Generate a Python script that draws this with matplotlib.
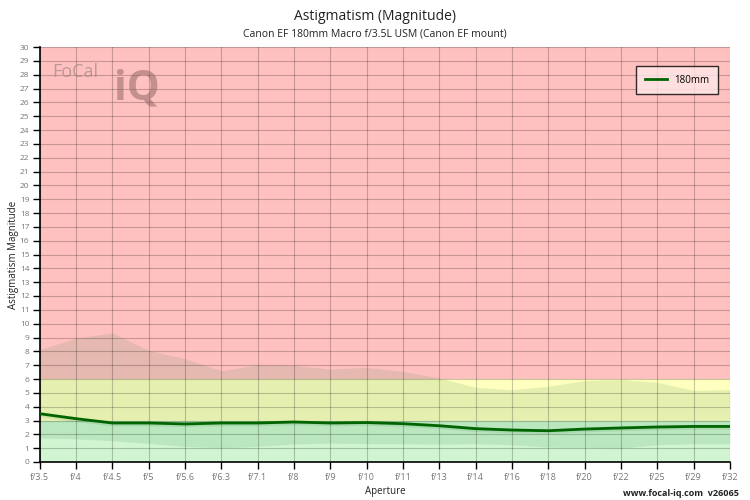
import numpy as np
import matplotlib.pyplot as plt

apertures = ["f/3.5", "f/4", "f/4.5", "f/5", "f/5.6", "f/6.3", "f/7.1", "f/8", "f/9", "f/10",
             "f/11", "f/13", "f/14", "f/16", "f/18", "f/20", "f/22", "f/25", "f/29", "f/32"]

# 180mm astigmatism magnitude
mag_180 = [3.49, 3.13, 2.82, 2.82, 2.75, 2.82, 2.82, 2.89, 2.82, 2.85,
           2.77, 2.62, 2.41, 2.31, 2.26, 2.38, 2.46, 2.53, 2.57, 2.57]

# spread of other samples (shaded envelope)
env_upper = [8.12, 8.96, 9.33, 8.07, 7.47, 6.60, 7.03, 6.99, 6.72, 6.84,
             6.55, 6.07, 5.40, 5.23, 5.47, 5.88, 5.95, 5.76, 5.18, 5.23]
env_lower = [1.73, 1.68, 1.54, 1.35, 1.13, 1.03, 1.13, 1.30, 1.37, 1.33,
             1.32, 1.30, 1.32, 1.25, 1.08, 1.06, 1.01, 1.25, 1.32, 1.32]

# quality zones
zones = [(0, 3, "#d0f5d0"), (3, 6, "#ffffc0"), (6, 30, "#ffc0c0")]

plt.rcParams["font.family"] = ["Open Sans", "DejaVu Sans"]

fig = plt.figure(figsize=(7.5, 5), dpi=100)
ax = fig.add_axes([0.053, 0.076, 0.9203, 0.83])

x = np.arange(len(apertures))

for lo, hi, col in zones:
    ax.axhspan(lo, hi, color=col, zorder=0, lw=0)

ax.fill_between(x, env_lower, env_upper, color="#157830", alpha=0.11, lw=0, zorder=1)

ax.plot(x, np.array(mag_180) - 0.06, color="#157830", lw=3.5, alpha=0.12, zorder=2)
ax.plot(x, mag_180, color="#006400", lw=2, zorder=3, label="180mm")

ax.set_xlim(0, len(apertures) - 1)
ax.set_ylim(0, 30)
ax.set_xticks(x)
ax.set_xticklabels(apertures)
ax.set_yticks(np.arange(0, 31, 1))

ax.grid(True, color="black", alpha=0.22, lw=0.8)
for gl in ax.get_xgridlines() + ax.get_ygridlines():
    gl.set_zorder(1.5)

for s in ["top", "right"]:
    ax.spines[s].set_visible(False)
ax.spines["left"].set_linewidth(1.2)
ax.spines["bottom"].set_linewidth(1.2)
ax.tick_params(axis="both", labelsize=6.5, labelcolor="#777777", length=5, width=1, direction="out")
ax.tick_params(axis="y", labelsize=6, pad=2.5)
ax.tick_params(axis="x", pad=3)

ax.set_xlabel("Aperture", fontsize=7, color="#222222")
ax.set_ylabel("Astigmatism Magnitude", fontsize=7, color="#222222")
ax.xaxis.set_label_coords(0.5, -0.057)
ax.yaxis.set_label_coords(-0.0295, 0.5)

fig.text(0.5, 0.966, "Astigmatism (Magnitude)", ha="center", va="center", fontsize=10, color="#222222")
fig.text(0.5, 0.932, "Canon EF 180mm Macro f/3.5L USM (Canon EF mount)", ha="center", va="center",
         fontsize=7.5, color="#222222")

leg = ax.legend(loc="upper right", bbox_to_anchor=(0.99, 0.966), fontsize=7, frameon=True,
                fancybox=False, handlelength=2.2, borderpad=0.9)
leg.get_frame().set_edgecolor("black")
leg.get_frame().set_linewidth(1)
leg.get_frame().set_facecolor("#ffe8e8")

# watermark logo
fig.text(0.069, 0.856, "FoCal", fontsize=13, color="#a08888", alpha=0.7, va="center")
fig.text(0.152, 0.822, "iQ", fontsize=30, color="#8a6060", alpha=0.5, va="center", fontweight="bold")

fig.text(0.985, 0.014, "www.focal-iq.com  v26065", ha="right", va="center", fontsize=6.5,
         fontweight="bold", color="#222222")

fig.savefig("out.png", dpi=100)
